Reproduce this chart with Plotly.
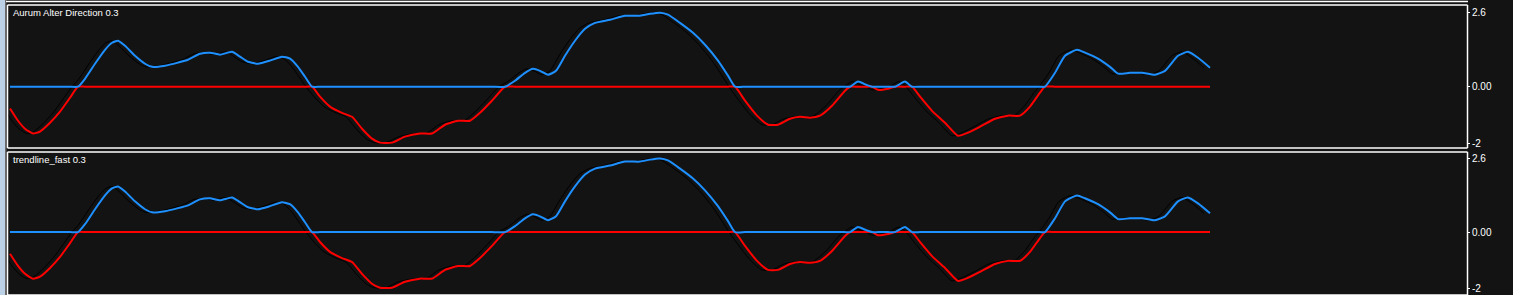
import numpy as np
import plotly.graph_objects as go

# time steps (bar positions) and oscillator values
t = [0, 8, 15, 23, 30, 40, 50, 60, 68,
     75, 85, 95, 102, 108, 115, 125, 135, 142, 155, 168, 178, 190, 200, 210, 222, 230, 238, 248, 260, 272, 280, 288, 295, 302,
     310, 320, 332, 342, 352, 362, 370, 382, 395, 410, 422, 435, 448, 460, 470, 482, 495,
     505, 515, 523, 530, 538, 546, 555, 565, 575, 585, 600, 615, 630, 640, 650, 658, 670, 683, 695, 708, 718, 725,
     735, 747, 758, 768, 780, 790, 800, 810, 822, 835, 840,
     848, 856, 862, 868, 878, 885, 895, 902,
     910, 922, 935, 948, 958, 970, 985, 998, 1010, 1020, 1030, 1035,
     1045, 1055, 1067, 1075, 1088, 1100, 1108, 1120, 1132, 1145, 1155, 1168, 1178, 1188, 1200]
osc = [-0.77, -1.20, -1.48, -1.65, -1.58, -1.27, -0.88, -0.39, 0.0,
       0.28, 0.81, 1.30, 1.55, 1.62, 1.44, 1.09, 0.81, 0.70, 0.74, 0.85, 0.95, 1.16, 1.20, 1.13, 1.23, 1.06, 0.88, 0.81, 0.92, 1.06, 0.99, 0.70, 0.35, 0.0,
       -0.35, -0.70, -0.92, -1.06, -1.48, -1.83, -1.97, -1.97, -1.76, -1.65, -1.65, -1.34, -1.20, -1.20, -0.92, -0.49, 0.0,
       0.21, 0.49, 0.63, 0.56, 0.42, 0.56, 1.09, 1.62, 2.04, 2.25, 2.36, 2.50, 2.50, 2.57, 2.61, 2.54, 2.25, 1.90, 1.48, 0.92, 0.39, 0.0,
       -0.49, -1.02, -1.34, -1.34, -1.13, -1.06, -1.09, -1.02, -0.67, -0.14, 0.0,
       0.18, 0.07, 0.0, -0.11, -0.07, 0.0, 0.18, 0.0,
       -0.35, -0.85, -1.27, -1.73, -1.62, -1.41, -1.13, -1.02, -1.02, -0.70, -0.21, 0.0,
       0.49, 1.09, 1.30, 1.20, 0.99, 0.70, 0.46, 0.49, 0.49, 0.42, 0.56, 1.09, 1.23, 1.02, 0.67]

panel_titles = ["Aurum Alter Direction 0.3", "trendline_fast 0.3"]
tick_vals = [2.6, 0.0, -2]
tick_text = ["2.6", "0.00", "-2"]

W, H = 1513, 295
BG = "#131313"
osc_arr = np.array(osc)
up = np.maximum(osc_arr, 0)
dn = np.minimum(osc_arr, 0)
t_arr = np.array(t)

fig = go.Figure()
panels = [("y", [-2.16, 2.88]), ("y2", [-2.23, 2.84])]
for i, (ya, rng) in enumerate(panels):
    fig.add_trace(go.Scatter(x=t_arr - 6, y=osc_arr, mode="lines", yaxis=ya,
                             line=dict(color="#000000", width=1, shape="spline", smoothing=0.6),
                             hoverinfo="skip", showlegend=False))
    fig.add_trace(go.Scatter(x=t, y=dn, mode="lines", yaxis=ya,
                             line=dict(color="#ff0000", width=2, shape="spline", smoothing=0.5), showlegend=False))
    fig.add_trace(go.Scatter(x=t, y=up, mode="lines", yaxis=ya,
                             line=dict(color="#1e90ff", width=2, shape="spline", smoothing=0.5), showlegend=False))

def px2x(p): return p / W
def py2y(p): return 1 - p / H

yax_common = dict(side="right", tickvals=tick_vals, ticktext=tick_text, showgrid=False, zeroline=False,
                  ticks="outside", ticklen=2, tickcolor="#ffffff", showline=False,
                  tickfont=dict(family="Liberation Sans", size=10, color="#ffffff"), anchor="x")

fig.update_layout(
    width=W, height=H, margin=dict(l=0, r=0, t=0, b=0),
    paper_bgcolor=BG, plot_bgcolor=BG,
    xaxis=dict(domain=[px2x(8), px2x(1467)], range=[-2, 1457], visible=False, fixedrange=True),
    yaxis=dict(domain=[py2y(148), py2y(5)], range=panels[0][1], **yax_common),
    yaxis2=dict(domain=[py2y(295), py2y(152)], range=panels[1][1], **yax_common),
)

shapes = []
# left pale strip
shapes.append(dict(type="rect", xref="paper", yref="paper", x0=0, x1=px2x(5), y0=0, y1=1,
                   fillcolor="#bcd0e6", line=dict(width=0), layer="above"))
shapes.append(dict(type="rect", xref="paper", yref="paper", x0=px2x(5), x1=px2x(6.5), y0=0, y1=1,
                   fillcolor="#6a6a6a", line=dict(width=0), layer="above"))
# top line
shapes.append(dict(type="line", xref="paper", yref="paper", x0=px2x(6), x1=px2x(1468), y0=py2y(1.5), y1=py2y(1.5),
                   line=dict(color="#ffffff", width=1.5), layer="above"))
# panel boxes
for (top, bot) in [(5, 148), (152, 295)]:
    shapes.append(dict(type="line", xref="paper", yref="paper", x0=px2x(7.5), x1=px2x(1467.5), y0=py2y(top), y1=py2y(top),
                       line=dict(color="#ffffff", width=1.5), layer="above"))
    shapes.append(dict(type="line", xref="paper", yref="paper", x0=px2x(7.5), x1=px2x(1467.5), y0=py2y(bot), y1=py2y(bot),
                       line=dict(color="#ffffff", width=1.5), layer="above"))
    shapes.append(dict(type="line", xref="paper", yref="paper", x0=px2x(7.5), x1=px2x(7.5), y0=py2y(top), y1=py2y(bot),
                       line=dict(color="#ffffff", width=1.5), layer="above"))
    shapes.append(dict(type="line", xref="paper", yref="paper", x0=px2x(1467.5), x1=px2x(1467.5), y0=py2y(top), y1=py2y(bot),
                       line=dict(color="#ffffff", width=1.5), layer="above"))
fig.update_layout(shapes=shapes)

for title, ypx in zip(panel_titles, [12, 159]):
    fig.add_annotation(text=title, xref="paper", yref="paper", x=px2x(11), y=py2y(ypx),
                       xanchor="left", yanchor="middle", showarrow=False,
                       font=dict(family="Liberation Sans", size=9.5, color="#ffffff"))

fig.write_html("out.html")
